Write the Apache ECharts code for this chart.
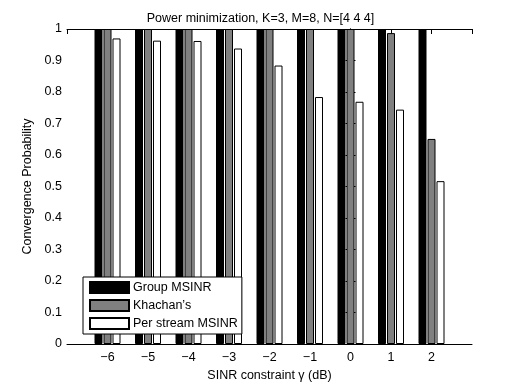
<!DOCTYPE html>
<html>
<head>
<meta charset="UTF-8">
<title>Power minimization</title>
<script src="https://cdn.jsdelivr.net/npm/echarts@6/dist/echarts.min.js"></script>
<style>
  html, body { margin: 0; padding: 0; background: #fff; }
  #main { width: 521px; height: 388px; }
</style>
</head>
<body>
<div id="main"></div>
<script>
// SINR constraint (dB)
var sinr = [-6, -5, -4, -3, -2, -1, 0, 1, 2];
// convergence probability per method
var groupMsinr = [1, 1, 1, 1, 1, 1, 1, 1, 1];
var khachan = [1, 1, 1, 1, 1, 1, 1, 0.987, 0.651];
var perStream = [0.970, 0.963, 0.962, 0.938, 0.884, 0.784, 0.769, 0.744, 0.517];
var yTicks = [0, 0.1, 0.2, 0.3, 0.4, 0.5, 0.6, 0.7, 0.8, 0.9, 1];

var FONT = 'Liberation Sans';
var FS = 12.5;

function pairs(vals) {
  return sinr.map(function (x, i) { return [x, vals[i]]; });
}

function barSeries(name, vals, color) {
  return {
    name: name,
    type: 'bar',
    data: pairs(vals),
    barWidth: 8,
    barGap: '12.5%',
    itemStyle: { color: color, borderColor: '#000', borderWidth: 1 },
    emphasis: { disabled: true },
    silent: true
  };
}

var chart = echarts.init(document.getElementById('main'));

var tickStyle = { inside: true, length: 5, lineStyle: { color: '#000' } };

chart.setOption({
  animation: false,
  title: {
    text: 'Power minimization, K=3, M=8, N=[4 4 4]',
    left: 'center',
    top: 7,
    textStyle: { fontFamily: FONT, fontSize: FS, fontWeight: 'normal', color: '#000' }
  },
  legend: {
    orient: 'vertical',
    left: 83,
    top: 277,
    padding: [4, 4, 4, 6],
    itemWidth: 39,
    itemHeight: 11,
    itemGap: 5,
    backgroundColor: '#fff',
    borderColor: '#000',
    borderWidth: 1,
    borderRadius: 0,
    icon: 'rect',
    textStyle: { fontFamily: FONT, fontSize: FS, color: '#000', padding: [0, 0, 0, -1] },
    data: ['Group MSINR', 'Khachan\u2019s', 'Per stream MSINR']
  },
  grid: { left: 67, right: 49, top: 29, bottom: 44 },
  xAxis: [{
    type: 'value',
    min: -7,
    max: 3,
    interval: 1,
    name: 'SINR constraint \u03b3 (dB)',
    nameLocation: 'middle',
    nameGap: 23,
    nameTextStyle: { fontFamily: FONT, fontSize: FS, color: '#000' },
    axisLine: { show: true, onZero: false, lineStyle: { color: '#000' } },
    axisTick: tickStyle,
    splitLine: { show: false },
    axisLabel: {
      fontFamily: FONT, fontSize: FS, color: '#000', margin: 7,
      showMinLabel: false, showMaxLabel: false,
      formatter: function (v) {
        if (sinr.indexOf(v) < 0) return '';
        return v < 0 ? '\u2212' + (-v) : String(v);
      }
    }
  }, {
    type: 'value',
    position: 'top',
    min: -7,
    max: 3,
    interval: 1,
    axisLine: { show: true, onZero: false, lineStyle: { color: '#000' } },
    axisTick: tickStyle,
    axisLabel: { show: false },
    splitLine: { show: false }
  }],
  yAxis: [{
    type: 'value',
    min: 0,
    max: 1,
    interval: 0.1,
    name: 'Convergence Probability',
    nameLocation: 'middle',
    nameGap: 28,
    nameTextStyle: { fontFamily: FONT, fontSize: FS, color: '#000' },
    axisLine: { show: true, lineStyle: { color: '#000' } },
    axisTick: tickStyle,
    splitLine: { show: false },
    axisLabel: {
      fontFamily: FONT, fontSize: FS, color: '#000', margin: 5,
      formatter: function (v) {
        var t = yTicks.filter(function (y) { return Math.abs(y - v) < 1e-9; });
        return t.length ? String(t[0]) : '';
      }
    }
  }, {
    type: 'value',
    position: 'right',
    min: 0,
    max: 1,
    interval: 0.1,
    axisLine: { show: true, lineStyle: { color: '#000' } },
    axisTick: tickStyle,
    axisLabel: { show: false },
    splitLine: { show: false }
  }],
  series: [
    barSeries('Group MSINR', groupMsinr, '#000000'),
    barSeries('Khachan\u2019s', khachan, '#808080'),
    barSeries('Per stream MSINR', perStream, '#ffffff')
  ]
});
</script>
</body>
</html>
